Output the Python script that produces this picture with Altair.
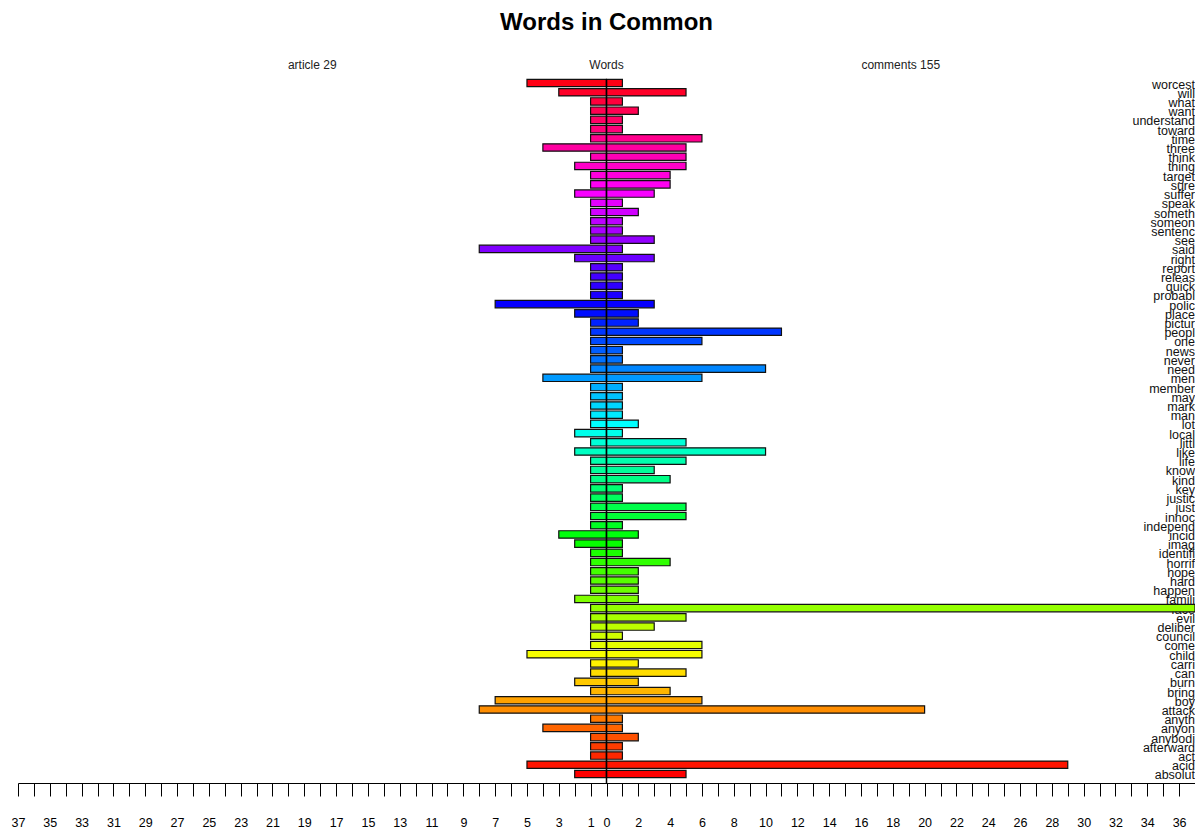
import colorsys
import altair as alt
import pandas as pd

# ---- data (top row to bottom row) ----
words = ["worcest", "will", "what", "want", "understand", "toward", "time", "three",
         "think", "thing", "target", "sure", "suffer", "speak", "someth", "someon",
         "sentenc", "see", "said", "right", "report", "releas", "quick", "probabl",
         "polic", "place", "pictur", "peopl", "one", "news", "never", "need", "men",
         "member", "may", "mark", "man", "lot", "local", "littl", "like", "life",
         "know", "kind", "key", "justic", "just", "innoc", "independ", "incid", "imag",
         "identifi", "horrif", "hope", "hard", "happen", "famili", "face", "evil",
         "deliber", "council", "come", "child", "carri", "can", "burn", "bring", "boy",
         "attack", "anyth", "anyon", "anybodi", "afterward", "act", "acid", "absolut"]

article = [5, 3, 1, 1, 1, 1, 1, 4, 1, 2, 1, 1, 2, 1, 1, 1, 1, 1, 8, 2,
           1, 1, 1, 1, 7, 2, 1, 1, 1, 1, 1, 1, 4, 1, 1, 1, 1, 1, 2,
           1, 2, 1, 1, 1, 1, 1, 1, 1, 1, 3, 2, 1, 1, 1, 1, 1, 2, 1,
           1, 1, 1, 1, 5, 1, 1, 2, 1, 7, 8, 1, 4, 1, 1, 1, 5, 2]

comments = [1, 5, 1, 2, 1, 1, 6, 5, 5, 5, 4, 4, 3, 1, 2, 1, 1, 3, 1, 3,
            1, 1, 1, 1, 3, 2, 2, 11, 6, 1, 1, 10, 6, 1, 1, 1, 1, 2, 1,
            5, 10, 5, 3, 4, 1, 1, 5, 5, 1, 2, 1, 1, 4, 2, 2, 2, 2, 37,
            5, 3, 1, 6, 6, 2, 5, 2, 4, 6, 20, 1, 1, 2, 1, 1, 29, 5]

headers = ["article 29", "Words", "comments 155"]
header_x = [-18.5, 0, 18.5]
title_text = "Words in Common"

# ---- build table ----
n = len(words)
rows = []
for i, w in enumerate(words):
    k = n - 1 - i
    r, g, b = colorsys.hsv_to_rgb(k / n, 1, 1)
    col = "#%02x%02x%02x" % (int(round(r * 255)), int(round(g * 255)), int(round(b * 255)))
    rows.append(dict(word=w, k=k, y1=k - 0.4, y2=k + 0.4,
                     left=-article[i], right=comments[i], zero=0, color=col))
df = pd.DataFrame(rows)

FONT = "Liberation Sans"
W = 1177
xs = alt.Scale(domain=[-37, 37], nice=False, zero=False)
ys = alt.Scale(domain=[-0.98, 75.98], nice=False, zero=False)

label_expr = ("datum.value < 0 ? (abs(datum.value) % 2 == 1 ? format(abs(datum.value), 'd') : '') : "
              "(datum.value % 2 == 0 ? format(datum.value, 'd') : '')")
xaxis = alt.Axis(values=list(range(-37, 38)), labelExpr=label_expr, labelOverlap=False,
                 tickSize=13, tickColor="black", domainColor="black", tickWidth=1,
                 domainWidth=1, labelFontSize=12.5, labelFont=FONT, labelColor="black",
                 labelPadding=20, grid=False, title=None, labelFlush=False)

base = alt.Chart(df)

labels = base.mark_text(align="right", baseline="middle", fontSize=12.5, font=FONT,
                        color="#111111", dy=1.5).encode(
    x=alt.value(W),
    y=alt.Y("k:Q", scale=ys, axis=None),
    text="word:N",
)

left_bars = base.mark_rect(stroke="#111111", strokeWidth=1.2).encode(
    x=alt.X("left:Q", scale=xs, axis=xaxis),
    x2="zero:Q",
    y=alt.Y("y1:Q", scale=ys, axis=None),
    y2="y2:Q",
    color=alt.Color("color:N", scale=None),
)

right_bars = base.mark_rect(stroke="#111111", strokeWidth=1.2).encode(
    x=alt.X("zero:Q", scale=xs, axis=xaxis),
    x2="right:Q",
    y=alt.Y("y1:Q", scale=ys, axis=None),
    y2="y2:Q",
    color=alt.Color("color:N", scale=None),
)

rule_df = pd.DataFrame({"x": [0], "ya": [-0.98], "yb": [75.45]})
center = alt.Chart(rule_df).mark_rule(color="black", strokeWidth=1.5).encode(
    x=alt.X("x:Q", scale=xs, axis=xaxis),
    y=alt.Y("ya:Q", scale=ys, axis=None),
    y2="yb:Q",
)

hdr_df = pd.DataFrame({"label": headers, "x": header_x})
hdr = alt.Chart(hdr_df).mark_text(fontSize=12, font=FONT, color="#222222",
                                  baseline="middle", align="center").encode(
    x=alt.X("x:Q", scale=xs, axis=xaxis),
    y=alt.value(-9),
    text="label:N",
)

ttl_df = pd.DataFrame({"label": [title_text], "x": [0]})
ttl = alt.Chart(ttl_df).mark_text(fontSize=24, font=FONT, fontWeight="bold", color="black",
                                  baseline="alphabetic", align="center").encode(
    x=alt.X("x:Q", scale=xs, axis=xaxis),
    y=alt.value(-44),
    text="label:N",
)

chart = alt.layer(labels, left_bars, right_bars, center, hdr, ttl).properties(
    width=W,
    height=709,
    autosize=alt.AutoSizeParams(type="none"),
    padding={"left": 10, "top": 66, "right": 0, "bottom": 45},
    background="white",
).configure_view(stroke=None)

chart.save("out.html", embed_options={"renderer": "svg", "actions": False})
